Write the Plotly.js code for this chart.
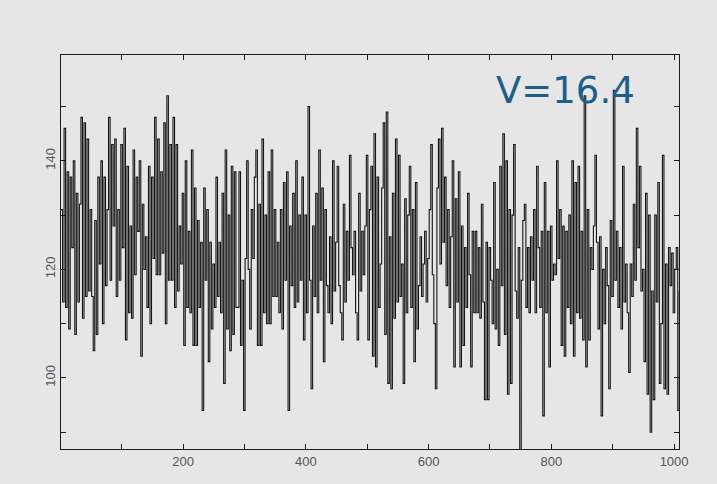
<!DOCTYPE html>
<html><head><meta charset="utf-8">
<script src="https://cdn.plot.ly/plotly-3.0.1.min.js"></script>
<style>html,body{margin:0;padding:0;background:#e6e6e6;} #chart{width:717px;height:484px;}</style>
</head><body><div id="chart"></div>
<script>
// Sample index: first sample position and spacing along the x axis
const xStart = 1;
const xStep = 2.5;

// Signal values, left to right (in blocks of roughly 150 x-units)
const block1 = [131,114,146,113,138,109,137,124,140,108,134,114,132,148,111,147,115,144,116,131,115,105,129,108,137,121,140,110,137,117,131,148,118,143,128,144,115,131,118,143,124,146,107,139,112,128,111,142,119,137,127,140,104,132,120,126];
const block2 = [113,139,110,137,122,148,119,144,119,138,123,147,110,152,118,143,118,148,113,143,116,128,121,134,106,140,113,127,112,142,106,135,106,129,113,125,94,135,118,131,103,125,109,121,113,137,115,125,112,134,99,142,109,130,105,139,108,138,113];
const block3 = [113,138,106,118,94,122,140,120,109,131,122,137,142,106,132,106,144,112,130,110,138,110,142,115,131,115,125,112,131,109,136,118,138,94,128,117,134,113,140,114,130,118,137,107,130,112,150,118,98,128,115,134,112,142,118,135,103,131,117];
const block4 = [112,126,110,140,116,125,139,117,112,107,132,114,127,118,141,124,119,127,112,107,134,116,127,119,128,141,107,131,139,104,145,102,137,113,121,135,147,108,149,99,126,98,134,111,144,114,141,115,121,99,133,112,130,139,113,131,103,136,109];
const block5 = [117,126,115,121,127,114,122,131,143,119,110,98,135,144,121,146,125,137,117,131,113,126,140,102,133,114,138,102,128,106,124,113,134,119,102,127,112,127,112,124,111,132,114,96,125,96,124,118,110,136,109,120,106,139,117,145,108,140,97];
const block6 = [131,99,130,143,116,111,124,84,118,129,132,113,124,112,126,118,131,112,139,124,113,127,93,136,112,127,102,128,118,121,119,140,122,131,106,128,104,127,113,130,110,140,104,136,112,139,111,127,107,152,102,131,107,124,120,128,141,125,109];
const block7 = [126,93,120,110,124,117,98,129,115,153,118,127,113,124,109,139,114,121,112,101,121,115,132,118,146,124,139,116,120,103,134,97,130,90,116,96,130,114,136,99,110,141,98,121,97,124,117,123,112,120,124,94,116];

// Axis ticks and annotation text
const xTicks = [200, 400, 600, 800, 1000];
const xMinorTicks = [100, 300, 500, 700, 900];
const yTicks = [100, 120, 140];
const yMinorTicks = [90, 110, 130, 150];
const label = "V=16.4";

const values = [].concat(block1, block2, block3, block4, block5, block6, block7);
const xs = values.map((_, i) => xStart + xStep * i);

const axisCommon = {
  showgrid: false, zeroline: false, showline: true, linecolor: '#1a1a1a', linewidth: 1,
  mirror: 'ticks', ticks: 'inside', ticklen: 5, tickwidth: 1, tickcolor: '#1a1a1a',
  tickfont: {family: 'Liberation Sans, Arial, sans-serif', size: 13, color: '#555'}
};

const trace = {
  x: xs, y: values, type: 'scatter', mode: 'lines',
  line: {color: '#151515', width: 1.1, shape: 'hv'}, hoverinfo: 'skip'
};

const layout = {
  width: 717, height: 484,
  margin: {l: 61, r: 38, t: 55, b: 35},
  paper_bgcolor: '#e6e6e6', plot_bgcolor: '#e6e6e6',
  showlegend: false,
  xaxis: Object.assign({}, axisCommon, {
    range: [1, 1008], tickmode: 'array', tickvals: xTicks,
    minor: {tickmode: 'array', tickvals: xMinorTicks, ticks: 'inside', ticklen: 5, tickcolor: '#1a1a1a', showgrid: false}
  }),
  yaxis: Object.assign({}, axisCommon, {
    range: [86.9, 159.5], tickmode: 'array', tickvals: yTicks, tickangle: -90,
    minor: {tickmode: 'array', tickvals: yMinorTicks, ticks: 'inside', ticklen: 5, tickcolor: '#1a1a1a', showgrid: false}
  }),
  annotations: [{
    text: label, xref: 'paper', yref: 'paper', x: 0.817, y: 0.909,
    xanchor: 'center', yanchor: 'middle', showarrow: false,
    font: {family: 'DejaVu Sans, Verdana, sans-serif', size: 37, color: '#1d5f8a'}
  }]
};

Plotly.newPlot('chart', [trace], layout, {displayModeBar: false, staticPlot: true});
</script>
</body></html>
